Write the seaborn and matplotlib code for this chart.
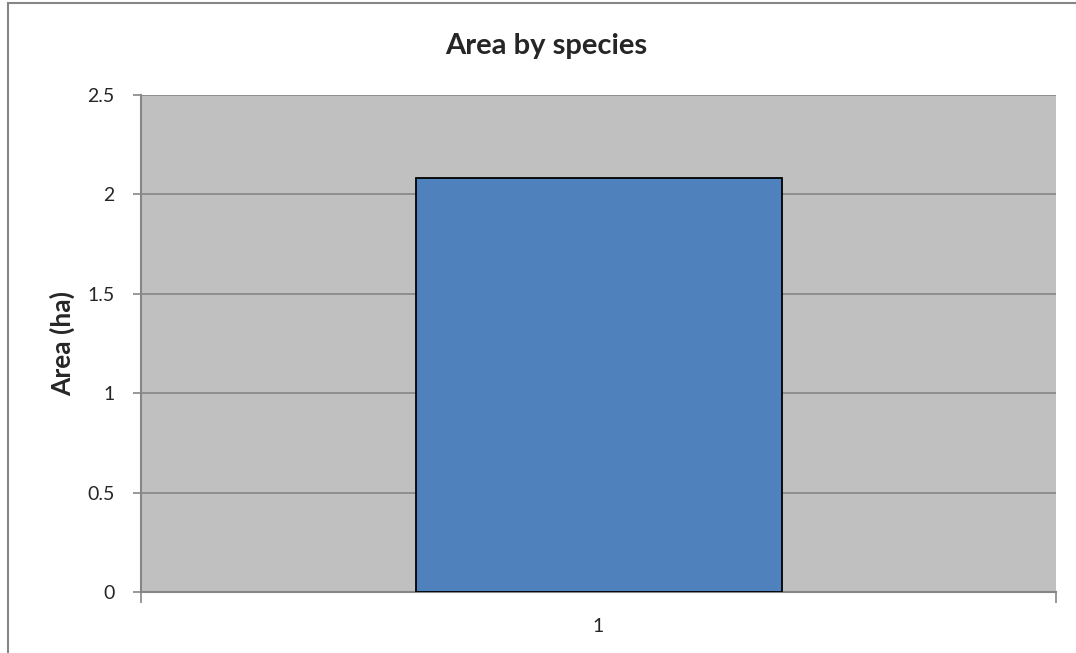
import matplotlib
matplotlib.use("Agg")
import matplotlib.pyplot as plt
import seaborn as sns
import pandas as pd
from matplotlib.patches import Rectangle

categories = ["1"]
values = [2.08]
title = "Area by species"
ylabel = "Area (ha)"
yticks = [0, 0.5, 1, 1.5, 2, 2.5]
ytick_labels = ["0", "0.5", "1", "1.5", "2", "2.5"]

sns.set_style("white")
plt.rcParams["font.family"] = ["Lato", "DejaVu Sans"]

df = pd.DataFrame({"cat": categories, "val": values})

fig = plt.figure(figsize=(10.76, 6.53), dpi=100)
ax = fig.add_axes([141/1076, 1 - 592/653, (1056-141)/1076, (592-95)/653])
ax.set_facecolor("#C0C0C0")

sns.barplot(data=df, x="cat", y="val", ax=ax, color="#4F81BD", saturation=1,
            width=0.4, edgecolor="black", linewidth=1.3, zorder=3)

ax.set_xlim(-0.5, 0.5)
ax.set_ylim(0, 2.5)
ax.set_yticks(yticks)
ax.set_yticklabels(ytick_labels)
ax.yaxis.grid(True, color="#868686", linewidth=1.2, zorder=0)
ax.set_axisbelow(True)

ax.set_xlabel("")
ax.set_ylabel(ylabel, fontsize=19, fontweight="bold", labelpad=9)
fig.text(546/1076, 1 - 54/653, title, fontsize=21, fontweight="bold",
         ha="center", va="baseline")

for s in ["top", "right"]:
    ax.spines[s].set_visible(False)
for s in ["left", "bottom"]:
    ax.spines[s].set_color("#868686")
    ax.spines[s].set_linewidth(1.5)

ax.tick_params(axis="y", which="major", length=6, width=1.2, color="#868686",
               labelsize=14, pad=13, left=True, direction="out")
ax.tick_params(axis="x", which="major", length=0, labelsize=14, pad=19)
ax.set_xticks([-0.5, 0.5], minor=True)
ax.tick_params(axis="x", which="minor", length=8, width=1.2, color="#868686",
               bottom=True, direction="out")

# outer chart border
fig.patches.append(Rectangle((8/1076, -0.05), 1.2, 1 - 3/653 + 0.05,
                             transform=fig.transFigure, fill=False,
                             edgecolor="#868686", linewidth=1.5))

fig.savefig("out.png", dpi=100)
